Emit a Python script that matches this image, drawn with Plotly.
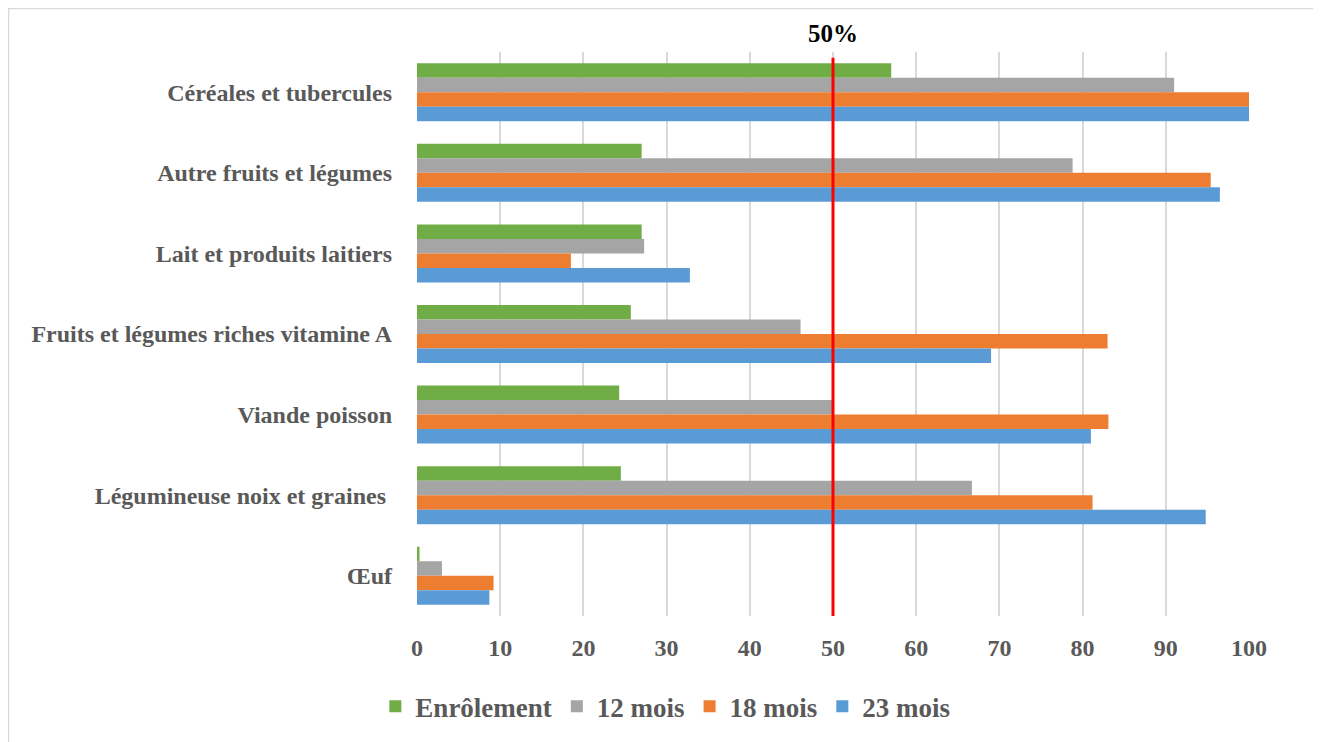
import plotly.graph_objects as go

categories = [
    "Céréales et tubercules",
    "Autre fruits et légumes",
    "Lait et produits laitiers",
    "Fruits et légumes riches vitamine A",
    "Viande poisson",
    "Légumineuse noix et graines ",
    "Œuf",
]
series_names = ["Enrôlement", "12 mois", "18 mois", "23 mois"]
enrolement = [57, 27, 27, 25.7, 24.3, 24.5, 0.3]
mois12 = [91, 78.8, 27.3, 46.1, 50, 66.7, 3]
mois18 = [100, 95.4, 18.5, 83, 83.1, 81.2, 9.2]
mois23 = [100, 96.5, 32.8, 69, 81, 94.8, 8.7]
colors = ["#70ad47", "#a5a5a5", "#ed7d31", "#5b9bd5"]
x_ticks = [0, 10, 20, 30, 40, 50, 60, 70, 80, 90, 100]
threshold = 50
threshold_label = "50%"

FONT = "Liberation Serif"

fig = go.Figure()
for name, vals, col in zip(series_names, [enrolement, mois12, mois18, mois23], colors):
    fig.add_trace(go.Bar(
        y=categories, x=vals, name=name, orientation="h",
        marker=dict(color=col, line=dict(width=0)),
    ))

fig.update_layout(
    width=1321, height=742,
    barmode="group", bargap=0.28, bargroupgap=0,
    plot_bgcolor="white", paper_bgcolor="white",
    margin=dict(l=409, r=80, t=44, b=134, autoexpand=False),
    font=dict(family=FONT, color="#595959"),
    legend=dict(orientation="h", x=0.2985, xanchor="center",
                y=-0.161, yanchor="middle",
                font=dict(family=FONT, size=27, color="#595959", weight="bold"),
                traceorder="normal", itemwidth=30),
    xaxis=dict(range=[0, 100], tickvals=x_ticks, showgrid=True, gridcolor="#d9d9d9",
               gridwidth=1.5, zeroline=False, showline=False, tickangle=0,
               tickfont=dict(family=FONT, size=24, color="#595959", weight="bold"),
               ticklabelstandoff=15),
    yaxis=dict(autorange="reversed", showgrid=False, showline=False, zeroline=False,
               tickfont=dict(family=FONT, size=24, color="#595959", weight="bold"),
               ticklabelstandoff=24),
)

fig.add_shape(type="rect", xref="paper", yref="paper",
              x0=-0.491, x1=1.0835, y0=-0.234, y1=1.0772,
              line=dict(color="#d9d9d9", width=1.5), layer="below")
fig.add_shape(type="line", xref="x", yref="paper", x0=threshold, x1=threshold,
              y0=0, y1=0.99, line=dict(color="#ff0000", width=3))
fig.add_annotation(x=threshold, xref="x", y=1, yref="paper", yshift=34,
                   text="<b>" + threshold_label + "</b>", showarrow=False,
                   font=dict(family=FONT, size=25, color="#000000"))

fig.write_html("out.html")
